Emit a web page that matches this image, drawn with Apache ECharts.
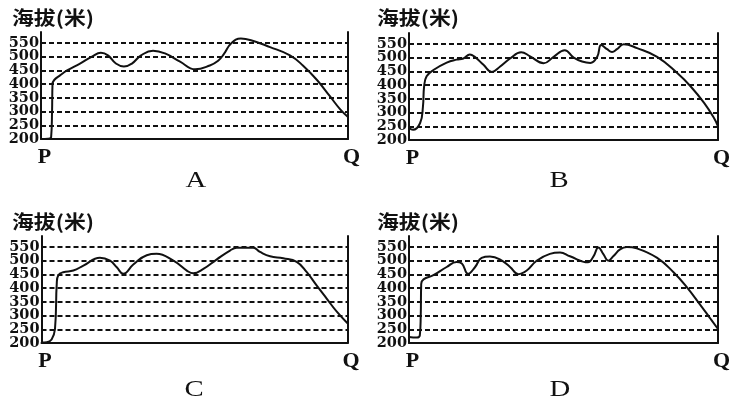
<!DOCTYPE html>
<html>
<head>
<meta charset="utf-8">
<script src="https://cdn.jsdelivr.net/npm/echarts@6/dist/echarts.min.js"></script>
<style>html,body{margin:0;padding:0;background:#fff}#c{width:734px;height:400px}</style>
</head>
<body>
<div id="c"></div>
<script>
// ---- data ----
const panelNames = ['A', 'B', 'C', 'D'];
const axisTitle = '海拔(米)';
const xTickLabels = ['P', 'Q'];
const gridValues = [250, 300, 350, 400, 450, 500, 550];
const yLabelValues = [200, 250, 300, 350, 400, 450, 500, 550];

const distA = [0, 2.3, 3.3, 3.6, 3.75, 4.3, 6.2, 8.5, 12.7, 16.6, 19.5, 21.8, 24.4, 27.0, 29.6, 32.6, 36.5, 40.4, 45.3, 50.2, 55.0, 57.7, 59.6, 61.9, 65.1, 68.4, 74.6, 81.1, 85.3, 89.9, 94.1, 97.4, 100];
const elevA = [200, 201, 207, 300, 400, 415, 432, 450, 475, 500, 514, 505, 475, 464, 475, 505, 522, 512, 482, 454, 468, 485, 510, 548, 566, 560, 535, 505, 468, 415, 356, 309, 280];

const distB = [0, 1.3, 3.6, 4.5, 4.9, 5.7, 7.9, 12.2, 15.4, 17.6, 19.7, 21.3, 24.1, 26.8, 29.5, 32.7, 36.3, 39.2, 43.6, 46.8, 50.4, 53.3, 56.0, 58.7, 60.9, 62.2, 64.1, 65.7, 67.3, 69.5, 73.8, 80.3, 86.8, 91.1, 95.5, 98.7, 100];
const elevB = [245, 237, 262, 320, 396, 432, 455, 482, 493, 497, 512, 503, 474, 448, 468, 497, 520, 505, 480, 503, 527, 500, 486, 481, 503, 546, 531, 521, 531, 549, 535, 503, 444, 396, 335, 280, 250];

const distC = [0, 1.7, 3.3, 4.4, 5.0, 5.5, 7.1, 10.4, 13.7, 19.1, 22.4, 24.6, 26.7, 30.0, 34.4, 37.6, 43.1, 47.5, 49.6, 52.9, 57.3, 61.6, 63.8, 69.2, 71.4, 74.7, 79.0, 83.4, 86.7, 89.9, 93.2, 96.5, 100];
const elevC = [202, 203, 213, 250, 420, 447, 458, 464, 482, 511, 500, 476, 452, 486, 520, 525, 500, 464, 454, 470, 505, 537, 547, 547, 532, 516, 509, 496, 458, 410, 362, 314, 272];

const distD = [0, 2.5, 3.5, 3.8, 3.95, 4.7, 7.9, 12.2, 15.4, 17.1, 19.1, 21.4, 23.5, 26.2, 29.4, 32.7, 35.4, 38.1, 41.3, 45.6, 48.9, 52.1, 57.9, 59.7, 61.3, 62.9, 64.5, 66.1, 68.3, 70.5, 73.7, 80.2, 85.6, 89.9, 94.2, 97.4, 100];
const elevD = [222, 220, 228, 300, 415, 432, 447, 477, 495, 490, 452, 477, 510, 515, 505, 477, 451, 464, 500, 525, 530, 516, 494, 516, 548, 524, 500, 516, 541, 550, 545, 511, 458, 404, 340, 291, 251];

const profiles = [[distA, elevA], [distB, elevB], [distC, elevC], [distD, elevD]];

// ---- layout ----
const grids = [
  {left: 41, right: 386, top: 32, bottom: 261},
  {left: 409, right: 16, top: 33, bottom: 260},
  {left: 41.5, right: 386.5, top: 236, bottom: 57},
  {left: 409, right: 16, top: 236, bottom: 57}
];
const titlePos = [[12, 17.5], [377, 17.5], [12, 221.5], [377, 221.5]];
const letterPos = [[196, 181], [559, 181], [194, 390], [560, 390]];

const ink = '#111';
const xAxes = [], yAxes = [], series = [], graphics = [];
const yLabelStyle = {
  show: true, margin: 2, color: ink, showMinLabel: true, hideOverlap: false,
  fontFamily: 'DejaVu Serif', fontWeight: 'bold', fontSize: 14.5
};

grids.forEach((g, i) => {
  xAxes.push({
    gridIndex: i, type: 'value', min: 0, max: 100, interval: 100,
    axisLine: {show: true, onZero: false, lineStyle: {color: ink, width: 2}},
    axisTick: {show: false}, splitLine: {show: false},
    axisLabel: {
      show: true, margin: 7, color: ink, showMinLabel: true, showMaxLabel: true,
      fontFamily: 'Liberation Serif', fontWeight: 'bold', fontSize: 22,
      padding: [0, 0, 0, 7],
      formatter: v => (v === 0 ? xTickLabels[0] : xTickLabels[1])
    }
  });
  const yBase = yAxes.length;
  // left axis: line + labels 250..550
  yAxes.push({
    gridIndex: i, type: 'value', min: 200, max: 590, interval: 50, position: 'left',
    axisLine: {show: true, lineStyle: {color: ink, width: 2}},
    axisTick: {show: false}, splitLine: {show: false},
    axisLabel: Object.assign({}, yLabelStyle, {
      formatter: v => (yLabelValues.indexOf(v) > 0 ? String(v) : '')
    })
  });
  // left axis twin: only the bottom label (200)
  yAxes.push({
    gridIndex: i, type: 'value', min: 200, max: 590, interval: 50, position: 'left',
    axisLine: {show: false}, axisTick: {show: false}, splitLine: {show: false},
    axisLabel: Object.assign({}, yLabelStyle, {
      formatter: v => (v === yLabelValues[0] ? String(v) : '')
    })
  });
  // right border axis
  yAxes.push({
    gridIndex: i, type: 'value', min: 200, max: 590, interval: 50, position: 'right',
    axisLine: {show: true, lineStyle: {color: ink, width: 2}},
    axisTick: {show: false}, splitLine: {show: false}, axisLabel: {show: false}
  });
  const [d, e] = profiles[i];
  series.push({
    type: 'line', xAxisIndex: i, yAxisIndex: yBase,
    data: d.map((x, k) => [x, e[k]]),
    showSymbol: false, smooth: 0.45,
    lineStyle: {color: ink, width: 2}, silent: true, z: 5,
    markLine: {
      silent: true, symbol: ['none', 'none'], label: {show: false},
      lineStyle: {color: ink, width: 1.8, type: [5, 3]},
      data: gridValues.map(v => ({yAxis: v}))
    }
  });
  graphics.push({
    type: 'text', x: titlePos[i][0], y: titlePos[i][1], scaleX: 1.15,
    style: {text: axisTitle, fill: ink, textAlign: 'left', textVerticalAlign: 'middle',
      font: 'bold 19px "Noto Sans CJK SC"'}
  });
  graphics.push({
    type: 'text', x: letterPos[i][0], y: letterPos[i][1], scaleX: 1.25,
    style: {text: panelNames[i], fill: ink, textAlign: 'center', textVerticalAlign: 'middle',
      font: '23px "Liberation Serif"'}
  });
});

const chart = echarts.init(document.getElementById('c'));
chart.setOption({
  animation: false,
  backgroundColor: '#fff',
  grid: grids,
  xAxis: xAxes,
  yAxis: yAxes,
  series: series,
  graphic: graphics
});
</script>
</body>
</html>
